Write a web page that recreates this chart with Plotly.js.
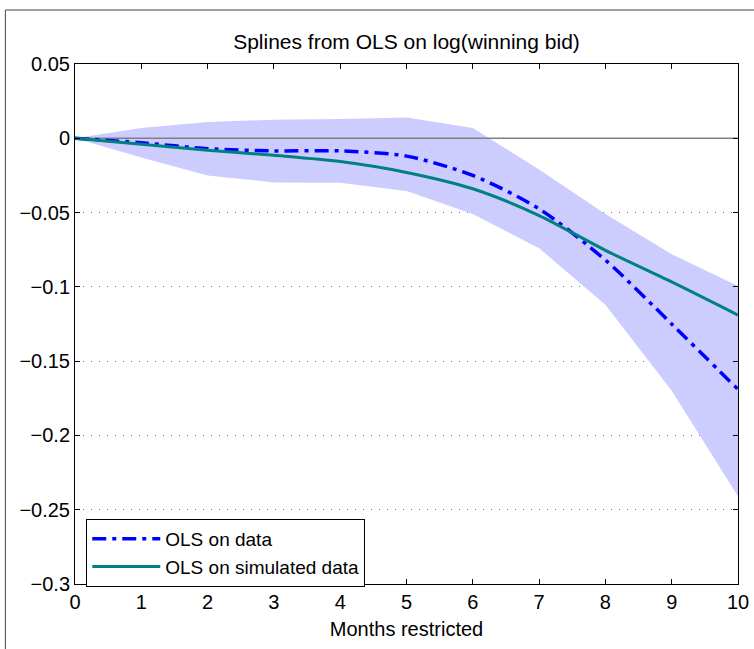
<!DOCTYPE html>
<html><head><meta charset="utf-8">
<script src="https://cdn.plot.ly/plotly-3.0.1.min.js"></script>
<style>body{margin:0;background:#fff}#chart{width:754px;height:649px}</style>
</head><body><div id="chart"></div>
<script>
const months = [0,1,2,3,4,5,6,7,8,9,10];
const olsData = [0,-0.003,-0.007,-0.0085,-0.0085,-0.012,-0.025,-0.0475,-0.082,-0.125,-0.169];
const olsSim = [0,-0.004,-0.008,-0.0115,-0.0157,-0.023,-0.034,-0.052,-0.0754,-0.0967,-0.119];
const bandUpper = [0,0.007,0.011,0.0125,0.013,0.014,0.007,-0.021,-0.051,-0.078,-0.0995];
const bandLower = [0,-0.013,-0.025,-0.0297,-0.030,-0.0355,-0.051,-0.074,-0.112,-0.170,-0.241];
const yTicks = [0.05,0,-0.05,-0.1,-0.15,-0.2,-0.25,-0.3];
const yTickText = ['0.05','0','\u22120.05','\u22120.1','\u22120.15','\u22120.2','\u22120.25','\u22120.3'];

const bandX = months.concat(months.slice().reverse());
const bandY = bandUpper.concat(bandLower.slice().reverse());

const traces = [
  {x: bandX, y: bandY, type:'scatter', mode:'lines', fill:'toself', fillcolor:'#CCCCFF',
   line:{width:0, color:'#CCCCFF'}, showlegend:false, hoverinfo:'skip'},
  {x:[months[0], months[months.length-1]], y:[0,0], type:'scatter', mode:'lines',
   line:{color:'#808080', width:1.5}, showlegend:false, hoverinfo:'skip'},
  {x: months, y: olsData, type:'scatter', mode:'lines', name:'OLS on data',
   line:{color:'#0000FF', width:3.5, dash:'14px,6px,4px,6px', shape:'spline', smoothing:0.8}},
  {x: months, y: olsSim, type:'scatter', mode:'lines', name:'OLS on simulated data',
   line:{color:'#008080', width:3, shape:'spline', smoothing:0.8}}
];

const font = {family:'Liberation Sans, Arial, sans-serif', color:'#000'};
const f = s => Object.assign({size:s}, font);
const layout = {
  width:754, height:649,
  margin:{l:75, r:16, t:64, b:65},
  paper_bgcolor:'#fff', plot_bgcolor:'#fff',
  font: f(20),
  title:{text:'Splines from OLS on log(winning bid)', font:f(21),
         x:0.5, xref:'paper', y:1, yref:'paper', yanchor:'bottom', pad:{b:15}},
  xaxis:{range:[0,10], tickvals:months, ticks:'inside', ticklen:5, tickcolor:'#000',
         showline:true, linecolor:'#000', linewidth:1, mirror:'ticks', showgrid:false, zeroline:false,
         title:{text:'Months restricted', font:f(20), standoff:9},
         tickfont:f(20)},
  yaxis:{range:[-0.3,0.05], tickvals:yTicks, ticktext:yTickText, ticks:'inside', ticklen:5, tickcolor:'#000',
         showline:true, linecolor:'#000', linewidth:1, mirror:'ticks', showgrid:true,
         gridcolor:'#777', griddash:'1px,7px', gridwidth:1, zeroline:false,
         tickfont:f(20)},
  legend:{x:0.017, y:0.125, xanchor:'left', yanchor:'top', bgcolor:'#fff',
          bordercolor:'#000', borderwidth:1, font:f(19),
          tracegroupgap:0, itemwidth:68},
  shapes:[{type:'rect', xref:'paper', yref:'paper', x0:-0.105, x1:1.2, y0:-0.3, y1:1.1038,
           line:{color:'#444', width:1}, fillcolor:'rgba(0,0,0,0)', layer:'below'}],
  showlegend:true
};
Plotly.newPlot('chart', traces, layout, {displayModeBar:false, staticPlot:true});
</script></body></html>
